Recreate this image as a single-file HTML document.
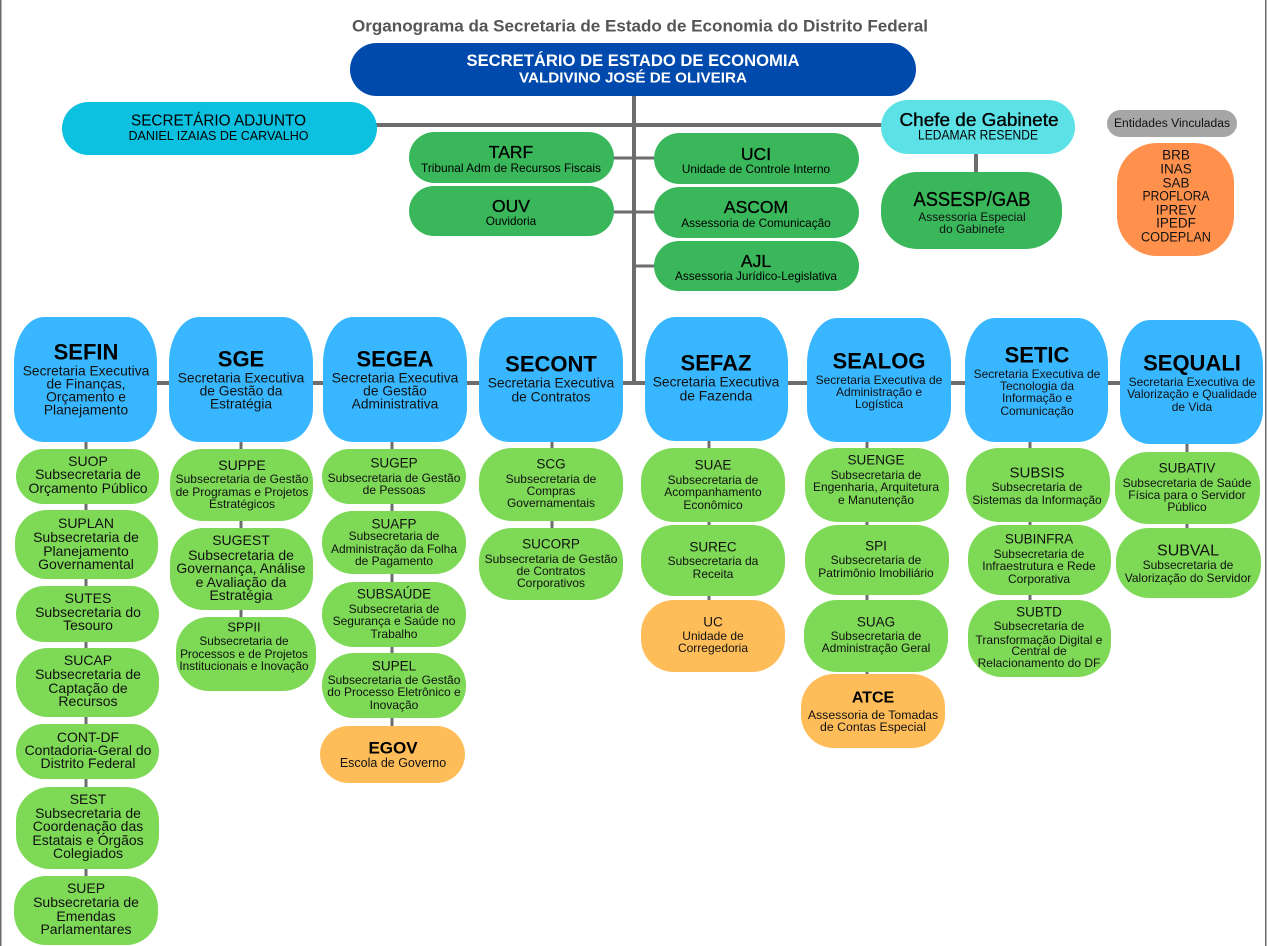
<!DOCTYPE html>
<html>
<head>
<meta charset="utf-8">
<style>
  html,body{margin:0;padding:0;background:#fff;}
  svg{display:block;}
  text{font-family:"Liberation Sans", sans-serif;}
</style>
</head>
<body>
<svg width="1267" height="946" viewBox="0 0 1267 946" xmlns="http://www.w3.org/2000/svg">
  <rect x="0" y="0" width="1267" height="946" fill="#fff"/>
  <!-- borders -->
  <rect x="0" y="0" width="1.5" height="946" fill="#6a6a6a"/>
  <rect x="1265" y="0" width="1.5" height="946" fill="#6a6a6a"/>

  <!-- Title -->
  <text x="640" y="26" font-size="17" font-weight="bold" fill="#555" text-anchor="middle" dominant-baseline="central" textLength="576" lengthAdjust="spacingAndGlyphs">Organograma da Secretaria de Estado de Economia do Distrito Federal</text>

  <!-- connectors (behind boxes) -->
  <g stroke="#6d6d6d" fill="none">
    <line x1="634" y1="95" x2="634" y2="384" stroke-width="4"/>
    <line x1="376" y1="125" x2="882" y2="125" stroke-width="4"/>
    <line x1="612" y1="158" x2="634" y2="158" stroke-width="3"/>
    <line x1="612" y1="212" x2="634" y2="212" stroke-width="3"/>
    <line x1="634" y1="158" x2="656" y2="158" stroke-width="3"/>
    <line x1="634" y1="212" x2="656" y2="212" stroke-width="3"/>
    <line x1="634" y1="266" x2="656" y2="266" stroke-width="3"/>
    <line x1="976" y1="152" x2="976" y2="174" stroke-width="4"/>
    <line x1="150" y1="383" x2="1125" y2="383" stroke-width="4"/>
    <line x1="86" y1="438" x2="86" y2="878" stroke-width="3"/>
    <line x1="241" y1="438" x2="241" y2="619" stroke-width="3"/>
    <line x1="392" y1="438" x2="392" y2="728" stroke-width="3"/>
    <line x1="552" y1="438" x2="552" y2="530" stroke-width="3"/>
    <line x1="709" y1="438" x2="709" y2="602" stroke-width="3"/>
    <line x1="867" y1="438" x2="867" y2="676" stroke-width="3"/>
    <line x1="1030" y1="438" x2="1030" y2="602" stroke-width="3"/>
    <line x1="1187" y1="440" x2="1187" y2="530" stroke-width="3"/>
  </g>

  <!-- Main box -->
  <rect x="350" y="43" width="566" height="53" rx="26.5" fill="#004aad"/>
  <text x="633" y="61" font-size="16.5" font-weight="bold" fill="#fff" text-anchor="middle" dominant-baseline="central" textLength="333" lengthAdjust="spacingAndGlyphs">SECRETÁRIO DE ESTADO DE ECONOMIA</text>
  <text x="633" y="78" font-size="15" font-weight="bold" fill="#fff" text-anchor="middle" dominant-baseline="central" textLength="228" lengthAdjust="spacingAndGlyphs">VALDIVINO JOSÉ DE OLIVEIRA</text>

  <!-- Adjunto -->
  <rect x="62" y="102" width="315" height="53" rx="26.5" fill="#0cc0df"/>
  <text x="218.5" y="121" font-size="15.5" fill="#000" text-anchor="middle" dominant-baseline="central" textLength="175" lengthAdjust="spacingAndGlyphs">SECRETÁRIO ADJUNTO</text>
  <text x="218.5" y="136" font-size="12.5" fill="#000" text-anchor="middle" dominant-baseline="central" textLength="180" lengthAdjust="spacingAndGlyphs">DANIEL IZAIAS DE CARVALHO</text>

  <!-- Chefe de Gabinete -->
  <rect x="881" y="100" width="194" height="54" rx="27" fill="#5ce1e6"/>
  <text x="979" y="120" font-size="18" fill="#000" stroke="#000" stroke-width="0.35" text-anchor="middle" dominant-baseline="central" textLength="159" lengthAdjust="spacingAndGlyphs">Chefe de Gabinete</text>
  <text x="978" y="135" font-size="13.5" fill="#000" text-anchor="middle" dominant-baseline="central" textLength="120" lengthAdjust="spacingAndGlyphs">LEDAMAR RESENDE</text>

  <!-- ASSESP/GAB -->
  <rect x="881" y="172" width="181" height="77" rx="36" fill="#39b75a"/>
  <text x="972" y="200" font-size="20" fill="#000" stroke="#000" stroke-width="0.3" text-anchor="middle" dominant-baseline="central" textLength="117" lengthAdjust="spacingAndGlyphs">ASSESP/GAB</text>
  <text x="972" y="217" font-size="12" fill="#111" text-anchor="middle" dominant-baseline="central">Assessoria Especial</text>
  <text x="972" y="229" font-size="12" fill="#111" text-anchor="middle" dominant-baseline="central">do Gabinete</text>

  <!-- Entidades -->
  <rect x="1107" y="110" width="130" height="27" rx="13.5" fill="#a6a6a6"/>
  <text x="1172" y="124" font-size="11.5" fill="#111" text-anchor="middle" dominant-baseline="central" textLength="116" lengthAdjust="spacingAndGlyphs">Entidades Vinculadas</text>

  <rect x="1117" y="143" width="117" height="113" rx="40" ry="40" fill="#ff914d"/>
  <g font-size="13.5" fill="#111" text-anchor="middle">
    <text x="1176" y="155" dominant-baseline="central">BRB</text>
    <text x="1176" y="169" dominant-baseline="central">INAS</text>
    <text x="1176" y="183" dominant-baseline="central">SAB</text>
    <text x="1176" y="196" dominant-baseline="central" textLength="67" lengthAdjust="spacingAndGlyphs">PROFLORA</text>
    <text x="1176" y="210" dominant-baseline="central">IPREV</text>
    <text x="1176" y="223" dominant-baseline="central">IPEDF</text>
    <text x="1176" y="237" dominant-baseline="central" textLength="70" lengthAdjust="spacingAndGlyphs">CODEPLAN</text>
  </g>

  <!-- Top green units -->
  <g fill="#39b75a">
    <rect x="409" y="132" width="205" height="51" rx="25.5"/>
    <rect x="409" y="186" width="205" height="50" rx="25"/>
    <rect x="654" y="133" width="205" height="51" rx="25.5"/>
    <rect x="654" y="187" width="205" height="51" rx="25.5"/>
    <rect x="654" y="241" width="205" height="50" rx="25"/>
  </g>
  <g fill="#000" text-anchor="middle">
    <text x="511" y="152" font-size="17.5" stroke="#000" stroke-width="0.3" dominant-baseline="central">TARF</text>
    <text x="511" y="168" font-size="11.8" dominant-baseline="central" textLength="180" lengthAdjust="spacingAndGlyphs">Tribunal Adm de Recursos Fiscais</text>
    <text x="511" y="206" font-size="17.5" stroke="#000" stroke-width="0.3" dominant-baseline="central">OUV</text>
    <text x="511" y="221" font-size="11.8" dominant-baseline="central">Ouvidoria</text>
    <text x="756" y="154" font-size="17.5" stroke="#000" stroke-width="0.3" dominant-baseline="central">UCI</text>
    <text x="756" y="169" font-size="11.8" dominant-baseline="central">Unidade de Controle Interno</text>
    <text x="756" y="207" font-size="17.5" stroke="#000" stroke-width="0.3" dominant-baseline="central">ASCOM</text>
    <text x="756" y="223" font-size="11.8" dominant-baseline="central">Assessoria de Comunicação</text>
    <text x="756" y="261" font-size="17.5" stroke="#000" stroke-width="0.3" dominant-baseline="central">AJL</text>
    <text x="756" y="276" font-size="11.8" dominant-baseline="central">Assessoria Jurídico-Legislativa</text>
  </g>

  <!-- SE boxes -->
  <g fill="#38b6ff">
    <path d="M44,317 H127 A30,46 0 0 1 157,363 V408 A30,34 0 0 1 127,442 H44 A30,34 0 0 1 14,408 V363 A30,46 0 0 1 44,317 Z"/>
    <path d="M199,317 H283 A30,46 0 0 1 313,363 V408 A30,34 0 0 1 283,442 H199 A30,34 0 0 1 169,408 V363 A30,46 0 0 1 199,317 Z"/>
    <path d="M353,317 H437 A30,46 0 0 1 467,363 V408 A30,34 0 0 1 437,442 H353 A30,34 0 0 1 323,408 V363 A30,46 0 0 1 353,317 Z"/>
    <path d="M509,317 H593 A30,46 0 0 1 623,363 V408 A30,34 0 0 1 593,442 H509 A30,34 0 0 1 479,408 V363 A30,46 0 0 1 509,317 Z"/>
    <path d="M675,317 H758 A30,46 0 0 1 788,363 V407 A30,34 0 0 1 758,441 H675 A30,34 0 0 1 645,407 V363 A30,46 0 0 1 675,317 Z"/>
    <path d="M837,318 H921 A30,46 0 0 1 951,364 V408 A30,34 0 0 1 921,442 H837 A30,34 0 0 1 807,408 V364 A30,46 0 0 1 837,318 Z"/>
    <path d="M995,318 H1078 A30,46 0 0 1 1108,364 V408 A30,34 0 0 1 1078,442 H995 A30,34 0 0 1 965,408 V364 A30,46 0 0 1 995,318 Z"/>
    <path d="M1150,320 H1233 A30,46 0 0 1 1263,366 V410 A30,34 0 0 1 1233,444 H1150 A30,34 0 0 1 1120,410 V366 A30,46 0 0 1 1150,320 Z"/>
  </g>
  <g fill="#000" text-anchor="middle">
    <g font-size="22" font-weight="bold">
      <text x="86" y="352" dominant-baseline="central">SEFIN</text>
      <text x="241" y="359" dominant-baseline="central">SGE</text>
      <text x="395" y="359" dominant-baseline="central">SEGEA</text>
      <text x="551" y="364" dominant-baseline="central">SECONT</text>
      <text x="716" y="363" dominant-baseline="central">SEFAZ</text>
      <text x="879" y="361" dominant-baseline="central">SEALOG</text>
      <text x="1037" y="355" dominant-baseline="central">SETIC</text>
      <text x="1192" y="363" dominant-baseline="central">SEQUALI</text>
    </g>
    <g font-size="13.8" fill="#111">
      <text x="86" y="371" dominant-baseline="central">Secretaria Executiva</text>
      <text x="86" y="384" dominant-baseline="central">de Finanças,</text>
      <text x="86" y="397" dominant-baseline="central">Orçamento e</text>
      <text x="86" y="410" dominant-baseline="central">Planejamento</text>
      <text x="241" y="378" dominant-baseline="central">Secretaria Executiva</text>
      <text x="241" y="391" dominant-baseline="central">de Gestão da</text>
      <text x="241" y="404" dominant-baseline="central">Estratégia</text>
      <text x="395" y="378" dominant-baseline="central">Secretaria Executiva</text>
      <text x="395" y="391" dominant-baseline="central">de Gestão</text>
      <text x="395" y="404" dominant-baseline="central">Administrativa</text>
      <text x="551" y="383" dominant-baseline="central">Secretaria Executiva</text>
      <text x="551" y="397" dominant-baseline="central">de Contratos</text>
      <text x="716" y="382" dominant-baseline="central">Secretaria Executiva</text>
      <text x="716" y="396" dominant-baseline="central">de Fazenda</text>
    </g>
    <g font-size="12" fill="#111">
      <text x="879" y="380" dominant-baseline="central">Secretaria Executiva de</text>
      <text x="879" y="392" dominant-baseline="central">Administração e</text>
      <text x="879" y="404" dominant-baseline="central">Logística</text>
      <text x="1037" y="374" dominant-baseline="central">Secretaria Executiva de</text>
      <text x="1037" y="386" dominant-baseline="central">Tecnologia da</text>
      <text x="1037" y="398" dominant-baseline="central">Informação e</text>
      <text x="1037" y="411" dominant-baseline="central">Comunicação</text>
      <text x="1192" y="382" dominant-baseline="central">Secretaria Executiva de</text>
      <text x="1192" y="394" dominant-baseline="central">Valorização e Qualidade</text>
      <text x="1192" y="407" dominant-baseline="central">de Vida</text>
    </g>
  </g>

  <!-- Sub boxes -->
  <g fill="#7ed957">
    <!-- col1 -->
    <rect x="16" y="449" width="143" height="55" rx="27.5"/>
    <rect x="15" y="510" width="143" height="69" rx="32"/>
    <rect x="16" y="586" width="143" height="56" rx="28"/>
    <rect x="16" y="648" width="143" height="69" rx="32"/>
    <rect x="16" y="724" width="143" height="55" rx="27.5"/>
    <rect x="16" y="787" width="143" height="82" rx="34"/>
    <rect x="14" y="876" width="144" height="69" rx="32"/>
    <!-- col2 -->
    <rect x="170" y="449" width="143" height="72" rx="33"/>
    <rect x="170" y="528" width="143" height="82" rx="34"/>
    <rect x="176" y="617" width="140" height="74" rx="33"/>
    <!-- col3 -->
    <rect x="322" y="449" width="144" height="55" rx="27.5"/>
    <rect x="322" y="511" width="144" height="63" rx="31"/>
    <rect x="322" y="582" width="144" height="65" rx="32"/>
    <rect x="322" y="653" width="144" height="65" rx="32"/>
    <!-- col4 -->
    <rect x="479" y="448" width="144" height="73" rx="33"/>
    <rect x="479" y="528" width="144" height="72" rx="33"/>
    <!-- col5 -->
    <rect x="641" y="448" width="144" height="74" rx="33"/>
    <rect x="641" y="525" width="144" height="71" rx="33"/>
    <!-- col6 -->
    <rect x="805" y="448" width="144" height="74" rx="33"/>
    <rect x="805" y="525" width="144" height="70" rx="33"/>
    <rect x="804" y="600" width="144" height="72" rx="33"/>
    <!-- col7 -->
    <rect x="966" y="448" width="144" height="74" rx="33"/>
    <rect x="968" y="525" width="143" height="70" rx="33"/>
    <rect x="968" y="600" width="143" height="77" rx="34"/>
    <!-- col8 -->
    <rect x="1115" y="452" width="145" height="72" rx="33"/>
    <rect x="1116" y="528" width="145" height="70" rx="33"/>
  </g>
  <g fill="#ffbd59">
    <rect x="320" y="726" width="145" height="57" rx="28.5"/>
    <rect x="641" y="600" width="144" height="72" rx="33"/>
    <rect x="801" y="674" width="144" height="74" rx="33"/>
  </g>

  <!-- Sub texts -->
  <g fill="#111" text-anchor="middle">
    <!-- col1 14px -->
    <g font-size="14">
      <text x="88" y="461" dominant-baseline="central">SUOP</text>
      <text x="88" y="474" dominant-baseline="central">Subsecretaria de</text>
      <text x="88" y="488" dominant-baseline="central">Orçamento Público</text>
      <text x="86" y="523" dominant-baseline="central">SUPLAN</text>
      <text x="86" y="537" dominant-baseline="central">Subsecretaria de</text>
      <text x="86" y="551" dominant-baseline="central">Planejamento</text>
      <text x="86" y="564" dominant-baseline="central">Governamental</text>
      <text x="88" y="598" dominant-baseline="central">SUTES</text>
      <text x="88" y="612" dominant-baseline="central">Subsecretaria do</text>
      <text x="88" y="625" dominant-baseline="central">Tesouro</text>
      <text x="88" y="660" dominant-baseline="central">SUCAP</text>
      <text x="88" y="674" dominant-baseline="central">Subsecretaria de</text>
      <text x="88" y="688" dominant-baseline="central">Captação de</text>
      <text x="88" y="701" dominant-baseline="central">Recursos</text>
      <text x="88" y="737" dominant-baseline="central">CONT-DF</text>
      <text x="88" y="750" dominant-baseline="central">Contadoria-Geral do</text>
      <text x="88" y="763" dominant-baseline="central">Distrito Federal</text>
      <text x="88" y="799" dominant-baseline="central">SEST</text>
      <text x="88" y="813" dominant-baseline="central">Subsecretaria de</text>
      <text x="88" y="826" dominant-baseline="central">Coordenação das</text>
      <text x="88" y="840" dominant-baseline="central">Estatais e Órgãos</text>
      <text x="88" y="853" dominant-baseline="central">Colegiados</text>
      <text x="86" y="888" dominant-baseline="central">SUEP</text>
      <text x="86" y="902" dominant-baseline="central">Subsecretaria de</text>
      <text x="86" y="916" dominant-baseline="central">Emendas</text>
      <text x="86" y="929" dominant-baseline="central">Parlamentares</text>
    </g>
    <!-- col2 -->
    <text x="242" y="465" font-size="14" dominant-baseline="central">SUPPE</text>
    <g font-size="12">
      <text x="242" y="479" dominant-baseline="central">Subsecretaria de Gestão</text>
      <text x="242" y="492" dominant-baseline="central">de Programas e Projetos</text>
      <text x="242" y="504" dominant-baseline="central">Estratégicos</text>
    </g>
    <g font-size="14">
      <text x="241" y="540" dominant-baseline="central">SUGEST</text>
      <text x="241" y="555" dominant-baseline="central">Subsecretaria de</text>
      <text x="241" y="568" dominant-baseline="central">Governança, Análise</text>
      <text x="241" y="582" dominant-baseline="central">e Avaliação da</text>
      <text x="241" y="595" dominant-baseline="central">Estratégia</text>
    </g>
    <text x="244" y="627" font-size="13" dominant-baseline="central">SPPII</text>
    <g font-size="11.8">
      <text x="244" y="641" dominant-baseline="central">Subsecretaria de</text>
      <text x="244" y="654" dominant-baseline="central">Processos e de Projetos</text>
      <text x="244" y="666" dominant-baseline="central">Institucionais e Inovação</text>
    </g>
    <!-- col3 -->
    <g font-size="13.5">
      <text x="394" y="463" dominant-baseline="central">SUGEP</text>
      <text x="394" y="524" dominant-baseline="central">SUAFP</text>
      <text x="394" y="594" dominant-baseline="central">SUBSAÚDE</text>
      <text x="394" y="666" dominant-baseline="central">SUPEL</text>
    </g>
    <g font-size="12">
      <text x="394" y="478" dominant-baseline="central">Subsecretaria de Gestão</text>
      <text x="394" y="490" dominant-baseline="central">de Pessoas</text>
      <text x="394" y="536" dominant-baseline="central">Subsecretaria de</text>
      <text x="394" y="549" dominant-baseline="central">Administração da Folha</text>
      <text x="394" y="561" dominant-baseline="central">de Pagamento</text>
      <text x="394" y="609" dominant-baseline="central">Subsecretaria de</text>
      <text x="394" y="621" dominant-baseline="central">Segurança e Saúde no</text>
      <text x="394" y="634" dominant-baseline="central">Trabalho</text>
      <text x="394" y="680" dominant-baseline="central">Subsecretaria de Gestão</text>
      <text x="394" y="692" dominant-baseline="central">do Processo Eletrônico e</text>
      <text x="394" y="705" dominant-baseline="central">Inovação</text>
    </g>
    <text x="393" y="748" font-size="17" font-weight="bold" fill="#000" dominant-baseline="central">EGOV</text>
    <text x="393" y="763" font-size="12.5" dominant-baseline="central">Escola de Governo</text>
    <!-- col4 -->
    <g font-size="13.5">
      <text x="551" y="464" dominant-baseline="central">SCG</text>
      <text x="551" y="544" dominant-baseline="central">SUCORP</text>
    </g>
    <g font-size="12">
      <text x="551" y="479" dominant-baseline="central">Subsecretaria de</text>
      <text x="551" y="491" dominant-baseline="central">Compras</text>
      <text x="551" y="503" dominant-baseline="central">Governamentais</text>
      <text x="551" y="559" dominant-baseline="central">Subsecretaria de Gestão</text>
      <text x="551" y="571" dominant-baseline="central">de Contratos</text>
      <text x="551" y="583" dominant-baseline="central">Corporativos</text>
    </g>
    <!-- col5 -->
    <g font-size="13.5">
      <text x="713" y="465" dominant-baseline="central">SUAE</text>
      <text x="713" y="547" dominant-baseline="central">SUREC</text>
      <text x="713" y="622" dominant-baseline="central">UC</text>
    </g>
    <g font-size="12">
      <text x="713" y="480" dominant-baseline="central">Subsecretaria de</text>
      <text x="713" y="492" dominant-baseline="central">Acompanhamento</text>
      <text x="713" y="505" dominant-baseline="central">Econômico</text>
      <text x="713" y="561" dominant-baseline="central">Subsecretaria da</text>
      <text x="713" y="574" dominant-baseline="central">Receita</text>
      <text x="713" y="636" dominant-baseline="central">Unidade de</text>
      <text x="713" y="648" dominant-baseline="central">Corregedoria</text>
    </g>
    <!-- col6 -->
    <g font-size="13.5">
      <text x="876" y="460" dominant-baseline="central">SUENGE</text>
      <text x="876" y="546" dominant-baseline="central">SPI</text>
      <text x="876" y="622" dominant-baseline="central">SUAG</text>
    </g>
    <g font-size="12">
      <text x="876" y="475" dominant-baseline="central">Subsecretaria de</text>
      <text x="876" y="487" dominant-baseline="central">Engenharia, Arquitetura</text>
      <text x="876" y="500" dominant-baseline="central">e Manutenção</text>
      <text x="876" y="560" dominant-baseline="central">Subsecretaria de</text>
      <text x="876" y="573" dominant-baseline="central">Patrimônio Imobiliário</text>
      <text x="876" y="636" dominant-baseline="central">Subsecretaria de</text>
      <text x="876" y="648" dominant-baseline="central">Administração Geral</text>
    </g>
    <text x="873" y="698" font-size="16" font-weight="bold" fill="#000" dominant-baseline="central">ATCE</text>
    <g font-size="12.3">
      <text x="873" y="715" dominant-baseline="central">Assessoria de Tomadas</text>
      <text x="873" y="727" dominant-baseline="central">de Contas Especial</text>
    </g>
    <!-- col7 -->
    <text x="1037" y="473" font-size="15" dominant-baseline="central">SUBSIS</text>
    <text x="1039" y="539" font-size="13.5" dominant-baseline="central">SUBINFRA</text>
    <text x="1039" y="612" font-size="13.5" dominant-baseline="central">SUBTD</text>
    <g font-size="12">
      <text x="1037" y="487" dominant-baseline="central">Subsecretaria de</text>
      <text x="1037" y="500" dominant-baseline="central">Sistemas da Informação</text>
      <text x="1039" y="554" dominant-baseline="central">Subsecretaria de</text>
      <text x="1039" y="566" dominant-baseline="central">Infraestrutura e Rede</text>
      <text x="1039" y="579" dominant-baseline="central">Corporativa</text>
      <text x="1039" y="626" dominant-baseline="central">Subsecretaria de</text>
      <text x="1039" y="640" dominant-baseline="central">Transformação Digital e</text>
      <text x="1039" y="651" dominant-baseline="central">Central de</text>
      <text x="1039" y="663" dominant-baseline="central">Relacionamento do DF</text>
    </g>
    <!-- col8 -->
    <text x="1187" y="468" font-size="13.5" dominant-baseline="central">SUBATIV</text>
    <text x="1188" y="551" font-size="16" dominant-baseline="central">SUBVAL</text>
    <g font-size="12">
      <text x="1187" y="483" dominant-baseline="central">Subsecretaria de Saúde</text>
      <text x="1187" y="495" dominant-baseline="central">Física para o Servidor</text>
      <text x="1187" y="507" dominant-baseline="central">Público</text>
      <text x="1188" y="565" dominant-baseline="central">Subsecretaria de</text>
      <text x="1188" y="578" dominant-baseline="central">Valorização do Servidor</text>
    </g>
  </g>
</svg>
</body>
</html>
